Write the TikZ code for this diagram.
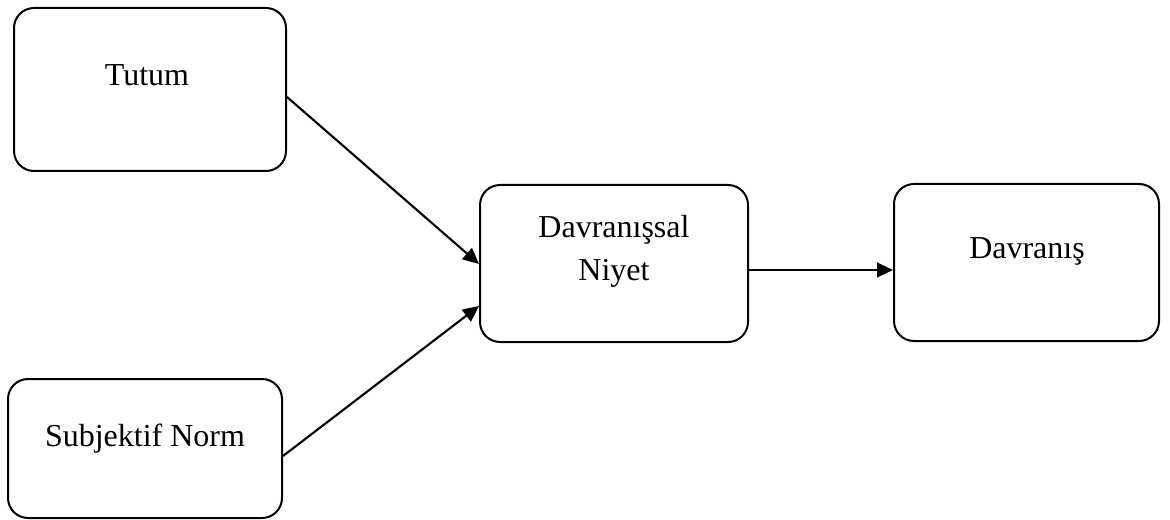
\documentclass[tikz,border=0pt]{standalone}
\usepackage{fontspec}
\setmainfont{Liberation Serif}
\usetikzlibrary{arrows.meta}
\begin{document}
\begin{tikzpicture}[x=0.75pt,y=-0.75pt,
  box/.style={draw=black,line width=1.5pt,rounded corners=15pt,inner sep=0pt},
  txt/.style={anchor=base,inner sep=0pt,font=\fontsize{24}{29}\selectfont},
  arr/.style={draw=black,line width=1.6pt,-{Triangle[length=12pt,width=11pt]}}]
\useasboundingbox (0,0) rectangle (1170,520);
\node[box,minimum width=204pt,minimum height=122.25pt] (t) at (150,89.5) {};
\node[txt] (tt) at (147,86) {Tutum};
\node[box,minimum width=205.5pt,minimum height=104.25pt] (s) at (145,448.5) {};
\node[txt] (st) at (145,446) {Subjektif Norm};
\node[box,minimum width=201pt,minimum height=117.75pt] (n) at (614,263.5) {};
\node[txt] (nt1) at (614,238) {Davranışsal};
\node[txt] (nt2) at (614,281) {Niyet};
\node[box,minimum width=198.75pt,minimum height=117.75pt] (d) at (1026.5,262.5) {};
\node[txt] (dt) at (1027,258) {Davranış};
\draw[arr] (t.east |- 0,97) -- (n.west |- 0,264);
\draw[arr] (s.east |- 0,456) -- (n.west |- 0,306);
\draw[arr] (n.east |- 0,270) -- (d.west |- 0,270);
\end{tikzpicture}
\end{document}
